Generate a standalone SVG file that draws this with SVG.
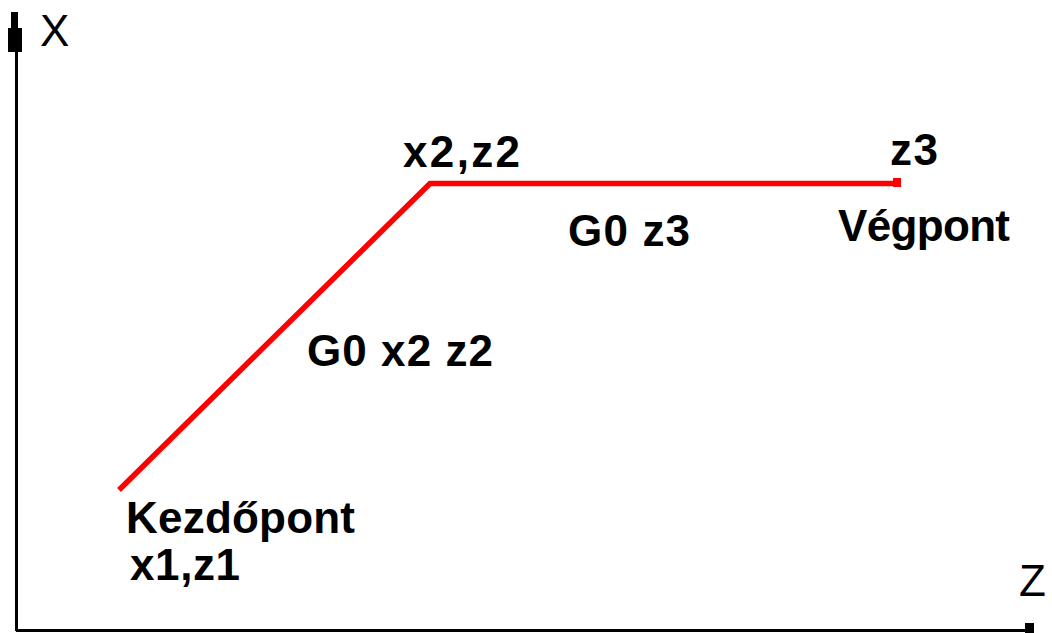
<svg xmlns="http://www.w3.org/2000/svg" width="1052" height="633" viewBox="0 0 1052 633">
<style>
.t{font-family:"Liberation Sans",Arial,sans-serif;font-size:44px;fill:#000}
.b{font-weight:bold}
.ax{stroke:#000;stroke-width:3;fill:none}
.path{stroke:#ff0000;stroke-width:5.5;fill:none;stroke-linejoin:miter}
</style>
<rect width="1052" height="633" fill="#fff"/>
<g id="axes">
<line class="ax" x1="16.5" y1="20" x2="16.5" y2="631"/>
<rect x="11" y="12" width="7" height="17" fill="#000"/>
<rect x="8" y="28" width="14" height="24" fill="#000"/>
<line class="ax" x1="16" y1="630.5" x2="1026" y2="630.5"/>
<rect x="1025" y="623" width="9" height="10" fill="#000"/>
<text class="t" x="40" y="46" font-size="42" textLength="32">X</text>
<text class="t" x="1019" y="596" font-size="42" textLength="32">Z</text>
</g>
<g id="connectors">
<polyline class="path" points="119,490 430,183.5 898,183.5"/>
<rect x="893" y="178" width="8" height="9" fill="#ff0000"/>
</g>
<g id="start">
<text class="t b" x="126" y="533" textLength="229">Kezdőpont</text>
<text class="t b" x="130" y="580" textLength="110">x1,z1</text>
</g>
<g id="mid">
<text class="t b" x="403" y="167" textLength="117">x2,z2</text>
</g>
<g id="end">
<text class="t b" x="890" y="165" textLength="48">z3</text>
<text class="t b" x="838" y="241" textLength="172">Végpont</text>
</g>
<g id="labels">
<text class="t b" x="307" y="366" textLength="186">G0 x2 z2</text>
<text class="t b" x="568" y="246" textLength="122">G0 z3</text>
</g>
</svg>
